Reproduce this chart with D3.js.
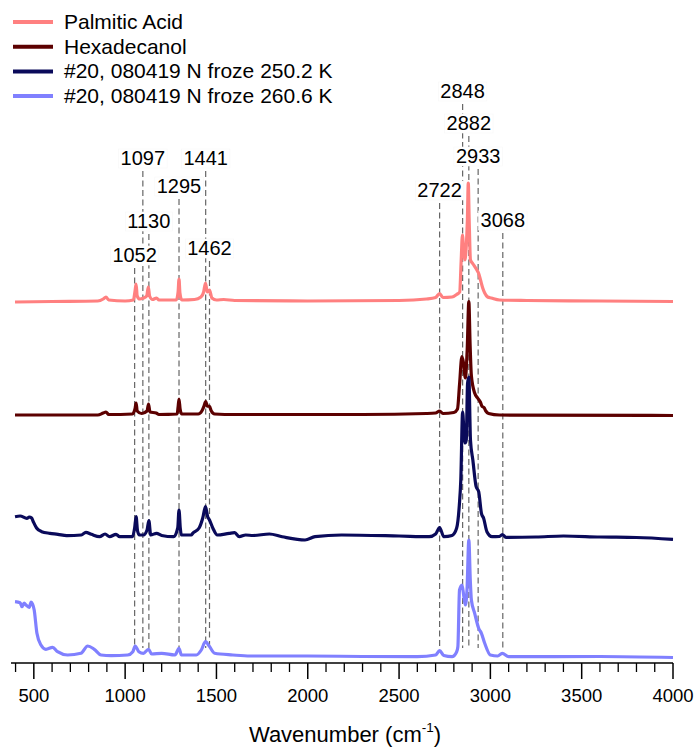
<!DOCTYPE html>
<html>
<head>
<meta charset="utf-8">
<script src="https://cdn.jsdelivr.net/npm/d3@7"></script>
<style>
  html, body { margin: 0; padding: 0; background: #fff; }
  svg { display: block; }
  text { font-family: "Liberation Sans", Arial, Helvetica, sans-serif; fill: #000; }
</style>
</head>
<body>
<svg id="chart" width="698" height="749"></svg>
<script>
// ---------------- DATA ----------------
const seriesNames = [
  "Palmitic Acid",
  "Hexadecanol",
  "#20, 080419 N froze 250.2 K",
  "#20, 080419 N froze 260.6 K"
];
const seriesColors = ["#ff8080", "#5c0000", "#0a0a5a", "#8080ff"];
// vertical offsets applied to stack the spectra (arbitrary units)
const seriesOffsets = [72.4, 49.6, 24.8, 1.2];

// [wavenumber (cm-1), intensity (arb.)]
const palmiticAcid = [
  [397,-0.2],[600,-0.1],[850,0],[880,0.4],[895,0.8],[910,0.2],[1000,0],[1045,0.2],
  [1055,2.2],[1060,3.4],[1066,1.0],[1080,0.4],[1100,0.6],[1118,1.0],[1127,2.8],[1134,1.0],
  [1150,0.3],[1172,0.6],[1185,0.2],[1280,0.2],[1290,1.8],[1295,4.4],[1300,1.6],[1310,0.2],
  [1380,0.3],[1415,0.8],[1430,1.8],[1440,3.6],[1450,1.8],[1462,2.2],[1475,0.6],[1500,0.2],
  [1540,0.3],[1600,0.1],[2000,0],[2500,0.1],[2650,0.4],[2700,0.7],[2722,1.5],[2740,0.7],
  [2790,0.8],[2815,1.3],[2832,1.8],[2840,8],[2847,13.2],[2854,10],[2860,8.2],[2868,11],
  [2874,16],[2879,23.6],[2884,16],[2891,8.2],[2905,7.4],[2926,6.2],[2935,5.6],[2946,4.2],
  [2958,2.6],[2969,1.6],[2985,0.8],[3005,0.6],[3050,0.2],[3200,0.1],[3600,0],[4000,-0.1]
];
const hexadecanol = [
  [397,0],[850,0],[880,0.4],[895,0.6],[910,0.1],[1040,0.2],[1055,1.4],[1060,2.4],
  [1066,0.8],[1090,0.3],[1120,0.8],[1128,2.2],[1136,0.6],[1170,0.4],[1185,0.1],[1285,0.2],
  [1290,1.6],[1295,3.2],[1301,1.2],[1310,0.2],[1400,0.2],[1420,0.8],[1432,1.8],[1441,2.7],
  [1450,1.8],[1462,1.7],[1472,0.8],[1490,0.2],[1600,0.1],[2300,0.1],[2650,0.3],[2700,0.4],
  [2722,0.8],[2740,0.3],[2800,0.5],[2820,1.2],[2831,6],[2844,11.7],[2852,10.6],[2863,7.4],
  [2873,13],[2882,22.7],[2889,14],[2896,7.8],[2914,4.4],[2930,3.4],[2945,2.6],[2955,1.7],
  [2965,1.5],[2975,0.8],[2990,0.3],[3050,0],[4000,-0.1]
];
const froze250 = [
  [397,4.46],[425,4.6],[462,4.14],[475,4.4],[488,4.2],[497,3.46],[515,2.2],[543,1.46],
  [588,1.14],[632,0.94],[680,0.66],[760,0.8],[785,1.34],[815,0.94],[860,0.46],[890,1.0],
  [915,0.46],[950,0.94],[970,0.46],[1040,0.46],[1052,2.2],[1060,4.46],[1068,1.6],[1078,0.8],
  [1100,0.8],[1120,1.8],[1130,3.66],[1140,0.8],[1172,1.14],[1200,0.7],[1265,0.46],[1288,2.2],
  [1295,5.8],[1302,2.2],[1308,0.8],[1362,0.8],[1370,1.14],[1405,2.2],[1425,4.2],[1440,6.46],
  [1452,4.46],[1462,3.8],[1480,2.2],[1505,0.8],[1570,1.14],[1600,1.26],[1625,0.46],[1660,0.8],
  [1700,0.7],[1790,1.0],[1860,0.46],[1985,-0.2],[2040,0.46],[2185,0.8],[2500,0.6],[2665,0.46],
  [2700,1.0],[2722,2.3],[2745,0.46],[2790,0.7],[2815,2.14],[2830,6.8],[2838,11.8],[2848,25.4],
  [2855,21.8],[2862,19.2],[2868,19.8],[2875,31.1],[2882,32.4],[2891,19.8],[2904,15.8],[2922,10.46],
  [2936,9.46],[2951,5.14],[2963,4.14],[2981,1.46],[3009,0.46],[3050,0.5],[3065,0.9],[3085,0.34],
  [3250,0.4],[3400,0.6],[3600,0.4],[3800,0.3],[4000,-0.06]
];
const froze260 = [
  [397,11.06],[425,10.86],[435,10.06],[447,10.8],[457,10.4],[475,9.94],[485,11.0],[493,10.6],
  [502,9.4],[517,4.74],[539,2.4],[566,1.54],[603,1.94],[630,1.06],[685,0.4],[758,0.74],
  [795,2.2],[831,1.54],[868,0.4],[923,0.26],[1014,0.4],[1042,1.06],[1055,2.2],[1075,1.06],
  [1100,0.74],[1128,1.54],[1145,0.6],[1200,0.74],[1273,0.4],[1295,1.74],[1308,0.4],[1390,0.4],
  [1417,1.4],[1440,3.06],[1460,2.2],[1490,0.74],[1590,0.4],[1685,0.2],[2000,0.2],[2300,0.1],
  [2600,0.06],[2700,0.4],[2722,1.26],[2745,0.3],[2790,0.06],[2815,1.0],[2822,2.06],[2831,13.4],
  [2845,14.4],[2855,12],[2863,10.4],[2872,13.4],[2882,23.4],[2890,15.4],[2896,11.4],[2914,8.74],
  [2936,5.74],[2951,4.74],[2969,2.74],[3000,0.4],[3040,0.2],[3065,0.74],[3100,0.06],[3600,0.1],
  [4000,-0.1]
];
const allSeries = [palmiticAcid, hexadecanol, froze250, froze260];

// peak markers
const peakPositions = [1052, 1097, 1130, 1295, 1441, 1462, 2722, 2848, 2882, 2933, 3068];
const peakLabels = ["1052", "1097", "1130", "1295", "1441", "1462", "2722", "2848", "2882", "2933", "3068"];
// height (arb. units) at which each marker's label sits
const peakLabelLevel = [80.2, 99.6, 87.0, 94.0, 99.6, 81.6, 93.2, 113.0, 106.6, 100.0, 87.2];
const peakLineBottom = 3.0;

const xDomain = [375, 4000];
const majorTicks = [500, 1000, 1500, 2000, 2500, 3000, 3500, 4000];
const minorTicks = d3.range(400, 4001, 100);
const xTitle = "Wavenumber (cm";

// ---------------- DRAWING ----------------
const svg = d3.select("#chart");
const x = d3.scaleLinear().domain(xDomain).range([11, 673]);
const y = d3.scaleLinear().domain([0, 100]).range([663, 163]);

// dashed peak lines
const peaks = svg.append("g");
peakPositions.forEach((p, i) => {
  peaks.append("line")
    .attr("x1", x(p)).attr("x2", x(p))
    .attr("y1", y(peakLabelLevel[i]) + 6)
    .attr("y2", y(peakLineBottom))
    .attr("stroke", "#666")
    .attr("stroke-width", 1.2)
    .attr("stroke-dasharray", "6,3.5");
});

// spectra
const line = d3.line()
  .x(d => x(d[0]))
  .y(d => y(d[1]))
  .curve(d3.curveMonotoneX);

allSeries.forEach((s, i) => {
  svg.append("path")
    .datum(s.map(d => [d[0], d[1] + seriesOffsets[i]]))
    .attr("d", line)
    .attr("fill", "none")
    .attr("stroke", seriesColors[i])
    .attr("stroke-width", 3.2)
    .attr("stroke-linejoin", "round");
});

// peak labels with white boxes
peakPositions.forEach((p, i) => {
  const g = svg.append("g");
  const t = g.append("text")
    .attr("x", x(p))
    .attr("y", y(peakLabelLevel[i]))
    .attr("text-anchor", "middle")
    .attr("font-size", 20)
    .text(peakLabels[i]);
  const bb = t.node().getBBox();
  g.insert("rect", "text")
    .attr("x", bb.x - 2).attr("y", bb.y + 2)
    .attr("width", bb.width + 4).attr("height", bb.height - 3)
    .attr("fill", "#fff")
    .attr("stroke", "#f7f7f7")
    .attr("stroke-width", 0.6);
});

// x axis
const axisY = y(0);
const axisG = svg.append("g").attr("transform", `translate(0,${axisY})`);
axisG.append("line")
  .attr("x1", x(xDomain[0])).attr("x2", x(xDomain[1]))
  .attr("stroke", "#000").attr("stroke-width", 1.4);
axisG.selectAll("line.minor")
  .data(minorTicks.filter(v => !majorTicks.includes(v)))
  .join("line").attr("class", "minor")
  .attr("x1", d => x(d)).attr("x2", d => x(d))
  .attr("y1", 0).attr("y2", 9)
  .attr("stroke", "#000").attr("stroke-width", 1.3);
axisG.selectAll("line.major")
  .data(majorTicks)
  .join("line").attr("class", "major")
  .attr("x1", d => x(d)).attr("x2", d => x(d))
  .attr("y1", 0).attr("y2", 16)
  .attr("stroke", "#000").attr("stroke-width", 1.5);
axisG.selectAll("text.tick")
  .data(majorTicks)
  .join("text").attr("class", "tick")
  .attr("x", d => x(d))
  .attr("y", 39)
  .attr("text-anchor", "middle")
  .attr("font-size", 18.5)
  .text(d => d);

const title = svg.append("text")
  .attr("x", 345).attr("y", 742)
  .attr("text-anchor", "middle")
  .attr("font-size", 22);
title.append("tspan").text(xTitle);
title.append("tspan").attr("font-size", 13.5).attr("dy", -10).text("-1");
title.append("tspan").attr("dy", 10).text(")");

// legend
const legend = svg.append("g");
seriesNames.forEach((n, i) => {
  const ly = 22 + i * 24.7;
  legend.append("line")
    .attr("x1", 13).attr("x2", 53)
    .attr("y1", ly).attr("y2", ly)
    .attr("stroke", seriesColors[i]).attr("stroke-width", 4);
  legend.append("text")
    .attr("x", 64).attr("y", ly + 7)
    .attr("font-size", 21)
    .text(n);
});
</script>
</body>
</html>
